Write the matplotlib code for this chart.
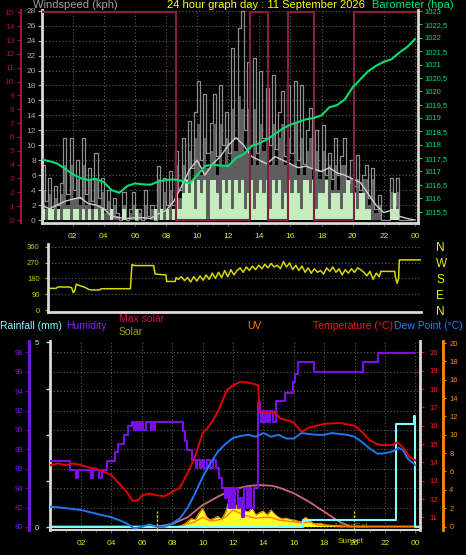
import numpy as np
import matplotlib
matplotlib.use('Agg')
from matplotlib import pyplot as plt
from matplotlib.ticker import FuncFormatter

plt.rcParams['font.family'] = ['Liberation Sans', 'DejaVu Sans']

# ---------------- data ----------------
hour_labels = ['02', '04', '06', '08', '10', '12', '14', '16', '18', '20', '22', '00']

# wind, one sample every 0.2 h (kph)
wind_hours = np.arange(120) * 0.2
wind_gust = [7.4, 2.5, 5.6, 1.5, 4.5, 2.0, 5.0, 11.0, 3.5, 11.0,
             4.0, 8.0, 3.0, 11.0, 3.5, 7.0, 2.5, 9.0, 3.0, 5.6,
             1.5, 4.0, 0.5, 3.0, 1.0, 0.0, 3.8, 0.0, 1.5, 3.8,
             0.0, 1.5, 0.0, 4.0, 0.5, 2.0, 0.0, 7.2, 1.5, 5.6,
             2.0, 6.5, 2.0, 9.2, 4.0, 11.0, 5.5, 13.2, 7.0, 14.5,
             18.6, 8.0, 16.8, 9.0, 13.0, 16.8, 8.5, 18.1, 10.0, 14.5,
             9.0, 23.0, 11.0, 25.7, 27.9, 12.0, 21.2, 10.0, 21.7, 9.0,
             19.9, 11.0, 17.7, 10.0, 19.4, 9.5, 14.5, 17.2, 8.5, 18.1,
             9.0, 18.6, 8.0, 18.1, 7.5, 12.0, 15.0, 7.0, 12.0, 6.5,
             12.7, 6.0, 9.0, 5.5, 11.0, 6.0, 8.5, 11.0, 5.0, 8.0,
             4.5, 8.7, 4.0, 6.0, 7.4, 3.0, 7.0, 1.5, 3.4, 0.0,
             0.0, 0.0, 5.6, 2.0, 5.6, 0.0, 0.0, 0.0, 0.0, 0.0]
wind_speed = [4.0, 1.5, 3.5, 1.0, 3.0, 1.5, 3.5, 7.4, 2.0, 7.4,
              3.0, 5.5, 2.0, 7.4, 2.0, 5.5, 1.5, 5.5, 2.0, 3.8,
              1.0, 2.5, 0.0, 2.0, 0.5, 0.0, 2.0, 0.0, 1.0, 2.0,
              0.0, 1.0, 0.0, 2.0, 0.0, 1.5, 0.0, 5.5, 1.0, 3.8,
              1.5, 4.0, 1.5, 7.4, 3.0, 7.4, 4.0, 9.2, 5.0, 11.0,
              12.9, 6.0, 11.0, 7.0, 9.2, 12.9, 6.0, 12.9, 7.4, 11.0,
              7.4, 14.8, 9.2, 16.6, 14.8, 9.2, 14.8, 7.4, 14.8, 7.4,
              12.9, 9.2, 12.9, 7.4, 12.9, 7.4, 11.0, 12.9, 7.4, 11.0,
              7.4, 12.9, 6.0, 11.0, 6.0, 9.2, 11.0, 5.5, 9.2, 5.5,
              9.2, 5.5, 7.4, 4.0, 7.4, 4.0, 7.4, 7.4, 3.8, 5.5,
              3.8, 5.5, 3.0, 5.5, 5.5, 2.0, 5.5, 1.0, 2.0, 0.0,
              0.0, 0.0, 3.8, 1.5, 3.8, 0.0, 0.0, 0.0, 0.0, 0.0]
wind_now = [1.5, 0, 1.5, 1.5, 0, 1.5, 0, 1.5, 1.5, 0,
            1.5, 1.5, 0, 1.5, 0, 1.5, 0, 1.5, 0, 1.5,
            0, 0, 1.5, 0, 0, 0, 1.5, 0, 0, 0,
            1.5, 0, 0, 0, 0, 0, 1.5, 0, 1.5, 0,
            1.5, 0, 1.5, 3.6, 1.5, 3.6, 5.4, 3.6, 5.4, 1.5,
            5.4, 3.6, 5.4, 0, 5.4, 5.4, 3.6, 1.5, 5.4, 3.6,
            5.4, 1.5, 5.4, 3.6, 5.4, 1.5, 3.6, 5.4, 1.5, 3.6,
            5.4, 3.6, 5.4, 1.5, 5.4, 3.6, 5.4, 1.5, 3.6, 5.4,
            3.6, 5.4, 3.6, 1.5, 5.4, 5.4, 3.6, 5.4, 1.5, 3.6,
            3.6, 5.4, 1.5, 3.6, 3.6, 3.6, 1.5, 3.6, 5.4, 3.6,
            3.6, 1.5, 3.6, 3.6, 1.5, 1.5, 0, 0, 0, 0,
            0, 0, 1.5, 3.6, 1.5, 0, 0, 0, 0, 0]

# half hourly: average wind (kph) and barometer (hPa)
half_hours = np.arange(49) * 0.5
wind_avg = [2.0, 1.5, 2.0, 2.5, 2.8, 3.0, 2.2, 2.0, 1.5, 0.5, 0.3, 0.2, 0.3, 0.3, 0.2, 0.8,
            1.3, 2.5, 4.5, 6.7, 8.0, 6.0, 7.5, 8.5, 10.0, 11.0, 10.0, 8.5, 8.0, 7.5, 8.5, 8.0,
            7.5, 7.0, 7.2, 6.8, 6.5, 7.0, 6.3, 6.0, 5.5, 5.0, 3.5, 2.0, 1.0, 1.3, 0.5, 0.2, 0.0]
baro = [1017.45, 1017.38, 1017.30, 1017.10, 1016.90, 1016.75, 1016.68, 1016.72, 1016.60,
        1016.30, 1016.20, 1016.45, 1016.55, 1016.52, 1016.50, 1016.62, 1016.68, 1016.70,
        1016.65, 1016.55, 1016.85, 1017.20, 1017.25, 1017.22, 1017.20, 1017.50, 1017.65,
        1017.95, 1018.05, 1018.20, 1018.40, 1018.60, 1018.75, 1018.85, 1018.95, 1019.00,
        1019.10, 1019.40, 1019.48, 1019.70, 1020.15, 1020.45, 1020.75, 1020.95, 1021.10,
        1021.20, 1021.45, 1021.65, 1021.95]

# dark red step line on the knots scale
band_hours = [0, 8.64, 13.4, 14.56, 15.85, 17.52, 20.1, 24.2]
band_knots = [15, 0, 15, 0, 15, 0, 15, 15]

# wind direction (degrees)
dir_hours = [0.0, 0.4, 0.5, 1.2, 1.4, 1.5, 1.6, 1.7, 1.9, 2.1, 2.3, 2.5, 2.7, 3.2, 3.3, 5.2,
             5.3, 5.5, 6.7, 6.8, 7.5, 7.55, 8.1, 8.15,
             8.3, 8.5, 8.7, 8.9, 9.1, 9.3, 9.5, 9.7, 9.9, 10.1, 10.3, 10.5, 10.7, 10.9,
             11.1, 11.3, 11.5, 11.7, 11.9, 12.1, 12.3, 12.5, 12.7, 12.9, 13.1, 13.3, 13.5,
             13.7, 13.9, 14.1, 14.3, 14.5, 14.7, 14.9, 15.1, 15.3, 15.5, 15.7, 15.9, 16.1,
             16.3, 16.5, 16.7, 16.9, 17.1, 17.3, 17.5, 17.7, 17.9, 18.1, 18.3, 18.5, 18.7,
             18.9, 19.1, 19.3, 19.5, 19.7, 19.9, 20.1, 20.3, 20.5, 20.7, 20.9, 21.1, 21.3,
             21.4, 22.3, 22.35, 22.45, 22.55, 22.6, 24.0]
dir_deg = [124, 124, 132, 132, 128, 100, 110, 148, 140, 135, 128, 118, 115, 115, 122, 122,
           258, 253, 253, 205, 200, 163, 163, 185,
           175, 190, 168, 185, 160, 190, 165, 195, 170, 200, 175, 210, 180, 215,
           185, 225, 190, 230, 200, 225, 240, 215, 245, 225, 250, 230, 255,
           235, 260, 240, 265, 245, 255, 235, 275, 245, 268, 230, 255, 225,
           250, 215, 240, 210, 235, 215, 225, 205, 240, 220, 245, 215, 235,
           200, 230, 210, 235, 215, 240, 230, 215, 195, 220, 175, 210, 190,
           220, 220, 185, 153, 180, 285, 285]

# humidity (%), step line
hum_hours = [0.0, 1.28, 1.65, 1.8, 2.65, 2.8, 3.2, 3.35, 3.7, 4.24, 4.45, 4.8, 5.1, 5.33,
             5.5, 5.6, 5.7, 5.8, 5.9, 6.0, 6.1, 6.3, 6.6, 6.7, 6.8, 6.9, 8.7, 8.85, 9.0,
             9.3, 9.55, 9.65, 9.8, 9.95, 10.1, 10.3, 10.5, 10.7, 10.9, 11.05, 11.3, 11.5,
             11.6, 11.75, 11.85, 12.0, 12.1, 12.3, 12.45, 12.6, 12.75, 12.9, 13.05, 13.2,
             13.35, 13.65, 13.75, 13.85, 13.95, 14.05, 14.2, 14.3, 14.45, 14.6, 14.85,
             15.4, 15.95, 16.1, 16.3, 17.3, 20.55, 21.55, 24.0]
humidity = [86.8, 85.9, 85.0, 85.9, 85.0, 85.9, 85.0, 85.9, 86.8, 87.7, 88.6, 89.5, 90.4, 90.85,
            90.0, 90.85, 90.0, 90.85, 90.0, 90.85, 90.0, 90.85, 90.0, 90.85, 90.0, 90.85, 89.9, 88.9, 87.9,
            86.9, 86.1, 86.9, 86.1, 86.9, 86.1, 86.9, 86.1, 86.9, 86.1, 85.0, 84.0, 83.0,
            84.0, 82.0, 84.0, 82.0, 84.0, 82.0, 83.0, 81.0, 84.0, 82.0, 84.0, 82.0,
            84.0, 92.9, 92.0, 90.85, 92.0, 90.85, 92.0, 90.85, 92.0, 90.85, 92.96,
            93.85, 94.95, 95.8, 97.0, 95.97, 97.0, 97.95, 97.95]

# temperature (C)
temp_hours = [0, 0.5, 1.0, 1.5, 2.0, 2.5, 3.0, 3.5, 4.0, 4.5, 5.0, 5.4, 5.8, 6.0, 6.5, 7.0,
              7.5, 8.0, 8.5, 9.0, 9.5, 10.0, 10.3, 10.7, 11.1, 11.6, 12.0, 12.5, 13.0, 13.5,
              13.65, 13.75, 14.2, 14.8, 15.1, 15.95, 16.5, 17.0, 18.0, 19.0, 20.0, 20.5,
              21.0, 21.6, 22.5, 22.8, 23.2, 23.6, 24.0]
temperature = [13.85, 13.94, 13.85, 13.94, 13.85, 13.73, 13.65, 13.49, 13.3, 12.85, 12.4, 11.9,
               11.95, 12.2, 12.3, 12.2, 12.15, 12.4, 12.6, 13.4, 14.3, 15.6, 15.85, 16.3, 16.95,
               17.95, 18.2, 18.4, 18.35, 18.25, 18.2, 16.76, 16.7, 16.7, 16.4, 16.2, 15.67,
               15.9, 16.1, 16.15, 16.0, 15.65, 15.2, 14.95, 14.95, 15.1, 14.8, 14.3, 14.1]

# dew point (C)
dew_hours = [0, 0.5, 1, 2, 3, 3.5, 4, 4.5, 5, 5.5, 6, 6.5, 7, 7.5, 8, 8.5, 9, 9.5, 10, 10.5,
             11, 11.5, 12, 12.5, 13, 13.5, 14, 14.5, 15, 15.5, 16, 16.5, 17, 17.5, 18, 18.5,
             19, 19.5, 20, 20.5, 21, 21.5, 22, 22.5, 22.9, 23.2, 23.5, 24]
dew_point = [11.58, 11.55, 11.5, 11.4, 11.2, 11.1, 11.0, 10.85, 10.67, 10.4, 10.48, 10.62,
             10.48, 10.48, 10.67, 10.94, 11.5, 12.3, 13.2, 13.94, 14.58, 15.0, 15.33, 15.44,
             15.5, 15.4, 15.6, 15.4, 15.5, 15.3, 15.3, 15.6, 15.55, 15.5, 15.5, 15.6, 15.55,
             15.5, 15.4, 15.1, 14.75, 14.47, 14.5, 14.6, 14.8, 14.65, 14.2, 13.85]

# rainfall (mm), step line
rain_hours = [0, 16.6, 22.7, 23.9, 24.0, 24.3]
rain = [0, 0.2, 2.8, 3.0, 0, 0]

# solar radiation (W/m2), max solar and UV index
solar_hours = [0, 8.25, 8.5, 8.75, 9.0, 9.25, 9.5, 9.75, 10.0, 10.25, 10.5, 10.75, 11.0, 11.25,
               11.5, 11.75, 12.0, 12.25, 12.5, 12.75, 13.0, 13.25, 13.5, 13.75, 14.0, 14.25,
               14.5, 14.75, 15.0, 15.25, 15.5, 15.75, 16.0, 16.25, 16.5, 16.75, 17.0, 17.25,
               17.5, 17.75, 18.0, 18.25, 18.5, 18.75, 19.0, 19.25, 19.5, 19.75, 24.3]
solar = [0, 0, 10, 30, 78, 130, 110, 216, 297, 160, 110, 135, 165, 120, 230, 433, 520, 298,
         380, 260, 242, 300, 188, 230, 250, 190, 270, 200, 150, 125, 140, 115, 106, 90, 75,
         150, 110, 52, 45, 55, 30, 25, 18, 20, 12, 8, 4, 0, 0]
maxsol_hours = [0, 7.0, 8, 9, 10, 11, 12, 13, 13.7, 14.5, 15, 16, 17, 18, 19, 19.7, 24.3]
max_solar = [0, 0, 40, 150, 350, 488, 608, 662, 678, 668, 640, 543, 405, 242, 78, 0, 0]
uv_hours = [0, 8.5, 9, 9.5, 10, 10.5, 11, 11.5, 12, 12.5, 13, 13.5, 14, 14.5, 15, 15.5, 16,
            16.5, 17, 17.5, 18, 18.5, 19, 24.3]
uv = [0, 0, 0.3, 0.5, 1.0, 0.6, 0.7, 1.0, 1.8, 1.4, 1.1, 0.9, 1.0, 1.0, 0.7, 0.6, 0.5, 0.4,
      0.5, 0.2, 0.1, 0.1, 0, 0]
sunrise, sunset = 6.98, 19.94

# ---------------- styling ----------------
W, H = 466.0, 555.0
PT = 0.72  # points per pixel at 100 dpi
GRID = '#5c5c5c'
SPINE = '#d8d8d8'
XLAB = '#e8e800'


def box(l, t, r, b):
    return [l / W, 1 - b / H, (r - l) / W, (b - t) / H]


def ftext(x, y, s, color, size=7.5, ha='left'):
    fig.text(x / W, 1 - y / H, s, color=color, fontsize=size, ha=ha, va='center')


def hide_spines(a):
    for s in a.spines.values():
        s.set_visible(False)


def time_axis(a, labels=True):
    a.set_xticks(range(2, 25, 2))
    a.set_xticks(range(1, 25), minor=True)
    if labels:
        a.set_xticklabels(hour_labels)
    else:
        a.set_xticklabels([])
    a.tick_params(axis='x', which='major', colors=GRID, labelcolor=XLAB, labelsize=6,
                  length=2.5, width=0.8, pad=5)
    a.tick_params(axis='x', which='minor', colors=GRID, length=1.5, width=0.8)


def dotted_grid(a, ys, xs):
    for y in ys:
        a.axhline(y, color=GRID, lw=0.8, ls=(0, (1, 2)), zorder=0)
    for x in xs:
        a.axvline(x, color=GRID, lw=0.8, ls=(0, (1, 2)), zorder=0)


fig = plt.figure(figsize=(W / 100, H / 100), dpi=100, facecolor='black')

# ======== top panel: wind speed and barometer ========
ax = fig.add_axes(box(42, 10, 418, 223))
ax.set_facecolor('black')
ax.set_xlim(0.03, 24.2)
ax.set_ylim(-0.4, 28.1)
dotted_grid(ax, range(2, 29, 2), range(2, 25, 2))
ax.fill_between(wind_hours, wind_speed, step='post', color='#5e5e5e', lw=0, zorder=1)
ax.plot(wind_hours, wind_gust, drawstyle='steps-post', color='#8e8e8e', lw=0.9, zorder=2)
ax.fill_between(wind_hours, wind_now, step='post', color='#c4ecbc', lw=0, zorder=3)
ax.plot(half_hours, wind_avg, color='#d0d0d0', lw=1.0, zorder=4)
hide_spines(ax)
for s in ('left', 'bottom'):
    ax.spines[s].set_visible(True)
    ax.spines[s].set_color(SPINE)
    ax.spines[s].set_linewidth(2)
ax.set_yticks(range(0, 29, 2))
ax.tick_params(axis='y', colors='#a8a8a8', labelsize=6, length=3, width=0.8, pad=1.5)
time_axis(ax)

# knots scale on the far left, with the dark red step line
axk = ax.twinx()
hide_spines(axk)
axk.set_ylim(-0.4 / 1.852, 28.1 / 1.852)
axk.spines['left'].set_visible(True)
axk.spines['left'].set_position(('outward', 21.5 * PT))
axk.spines['left'].set_color('#b0103c')
axk.spines['left'].set_linewidth(1.5)
axk.yaxis.tick_left()
axk.set_yticks(range(0, 16))
axk.tick_params(axis='y', colors='#b0103c', labelsize=6, length=3, width=0.8, pad=1.5)
axk.step(band_hours, band_knots, where='post', color='#8a1c40', lw=1.5)

# barometer on the right
axp = ax.twinx()
hide_spines(axp)
axp.spines['right'].set_visible(True)
axp.spines['right'].set_color(SPINE)
axp.spines['right'].set_linewidth(2)
axp.set_ylim(1015.07, 1023.04)
axp.set_yticks(np.arange(1015.5, 1023.01, 0.5))
axp.yaxis.set_major_formatter(FuncFormatter(
    lambda v, p: ('%g' % v).replace('.', ',')))
axp.tick_params(axis='y', colors='#00d060', labelcolor='#00e070', labelsize=5.5,
                length=3, width=0.8, pad=2)
axp.plot(half_hours, baro, color='#00e070', lw=1.5)

ftext(33, 5, 'Windspeed (kph)', '#a0a0a0', 8)
ftext(266, 5, '24 hour graph day : 11 September 2026', '#ffff00', 8, ha='center')
ftext(372, 5, 'Barometer (hpa)', '#00e070', 8)

# ======== middle panel: wind direction ========
ax2 = fig.add_axes(box(48, 244, 421, 312))
ax2.set_facecolor('black')
ax2.set_xlim(-0.13, 24.0)
ax2.set_ylim(-9.6, 375)
dotted_grid(ax2, [90, 180, 270, 360], [])
ax2.plot(dir_hours, dir_deg, color='#d8d800', lw=1.1)
hide_spines(ax2)
for s in ('left', 'bottom'):
    ax2.spines[s].set_visible(True)
    ax2.spines[s].set_color(SPINE)
    ax2.spines[s].set_linewidth(2)
ax2.set_xticks([])
ax2.set_yticks([0, 90, 180, 270, 360])
ax2.tick_params(axis='y', colors='#c8c800', labelsize=5.5, length=2, width=0.8, pad=4)
ax2c = ax2.twinx()
hide_spines(ax2c)
ax2c.set_ylim(ax2.get_ylim())
ax2c.set_yticks([0, 90, 180, 270, 360])
ax2c.set_yticklabels(['N', 'E', 'S', 'W', 'N'])
ax2c.tick_params(axis='y', colors='#f0f000', labelsize=8.5, length=0, pad=11)

# ======== bottom panel ========
ftext(0, 326, 'Rainfall (mm)', '#80ffff')
ftext(66, 326, 'Humidity', '#8020ff')
ftext(119, 319, 'Max solar', '#c01848')
ftext(119, 332, 'Solar', '#a0a000')
ftext(247, 326, 'UV', '#ff8000')
ftext(313, 326, 'Temperature (\u00b0C)', '#ff1010')
ftext(394, 326, 'Dew Point (\u00b0C)', '#2080ff')

ax3 = fig.add_axes(box(50, 341, 420, 530))
ax3.set_facecolor('black')
ax3.set_xlim(-0.04, 24.3)
ax3.set_ylim(79.69, 99.16)
dotted_grid(ax3, range(80, 99, 2), range(2, 25, 2))
hide_spines(ax3)
ax3.spines['bottom'].set_visible(True)
ax3.spines['bottom'].set_color(SPINE)
ax3.spines['bottom'].set_linewidth(1.5)
ax3.spines['left'].set_visible(True)
ax3.spines['left'].set_position(('outward', 21 * PT))
ax3.spines['left'].set_color('#7a18f0')
ax3.spines['left'].set_linewidth(2)
ax3.set_yticks(range(80, 99, 2))
ax3.tick_params(axis='y', colors='#7a18f0', labelsize=5.5, length=2.5, width=0.8, pad=2)
time_axis(ax3)
ax3.axvline(sunrise, ymax=0.1, color='#c8c800', lw=1, ls=(0, (2, 1)))
ax3.axvline(sunset, ymax=0.1, color='#c8c800', lw=1, ls=(0, (2, 1)))
ax3.text(19.8, 80.0, 'MoonSet', color='#707000', fontsize=6, ha='center', va='center')
ax3.annotate('Sunset', xy=(sunset, 0), xycoords=('data', 'axes fraction'),
             xytext=(-2, -8.4), textcoords='offset points', color='#d0d000',
             fontsize=6, ha='center', va='center')

# solar and max solar (scale not shown)
axs = ax3.twinx()
hide_spines(axs)
axs.set_ylim(-57, 3033)
axs.set_yticks([])
axs.plot(maxsol_hours, max_solar, color='#c86a78', lw=1.3)
axs.fill_between(solar_hours, solar, color='#ffff20', lw=0)
axs.plot(solar_hours, solar, color='#ff9a00', lw=0.7)

# UV on the far right
axu = ax3.twinx()
hide_spines(axu)
axu.set_ylim(-0.38, 20.22)
axu.spines['right'].set_visible(True)
axu.spines['right'].set_position(('outward', 23 * PT))
axu.spines['right'].set_color('#ff8c00')
axu.spines['right'].set_linewidth(2)
axu.set_yticks(range(0, 21, 2))
axu.tick_params(axis='y', colors='#ff8c00', labelsize=5.5, length=2.5, width=0.8, pad=2)
axu.plot(uv_hours, uv, color='#ff8000', lw=1.0)

# rainfall
axr = ax3.twinx()
hide_spines(axr)
axr.set_ylim(-0.081, 5.04)
axr.spines['left'].set_visible(True)
axr.spines['left'].set_color(SPINE)
axr.spines['left'].set_linewidth(2)
axr.yaxis.tick_left()
axr.set_yticks([0, 1.25, 2.5, 3.75, 5])
axr.set_yticklabels(['0', '', '', '', '5'])
axr.tick_params(axis='y', colors='#80ffff', labelsize=5.5, length=3, width=1, pad=5)
axr.plot(rain_hours, rain, drawstyle='steps-post', color='#80ffff', lw=1.5)

# humidity line
axh = ax3.twinx()
hide_spines(axh)
axh.set_ylim(ax3.get_ylim())
axh.set_yticks([])
axh.plot(hum_hours, humidity, drawstyle='steps-post', color='#7a10e8', lw=1.5)

# temperature and dew point
axt = ax3.twinx()
hide_spines(axt)
axt.set_ylim(10.31, 20.62)
axt.spines['right'].set_visible(True)
axt.spines['right'].set_color(SPINE)
axt.spines['right'].set_linewidth(2)
axt.set_yticks(range(11, 21))
axt.set_yticks(np.arange(10.5, 20.6, 0.25), minor=True)
axt.tick_params(axis='y', which='major', colors='#e01010', labelcolor='#ff2020',
                labelsize=5.5, length=3, width=0.8, pad=4)
axt.tick_params(axis='y', which='minor', colors='#a01010', length=1.5, width=0.6)
axt.plot(dew_hours, dew_point, color='#1e78f0', lw=1.4)
axt.plot(temp_hours, temperature, color='#e00000', lw=1.4)

fig.savefig('out.png', dpi=100, facecolor='black')
